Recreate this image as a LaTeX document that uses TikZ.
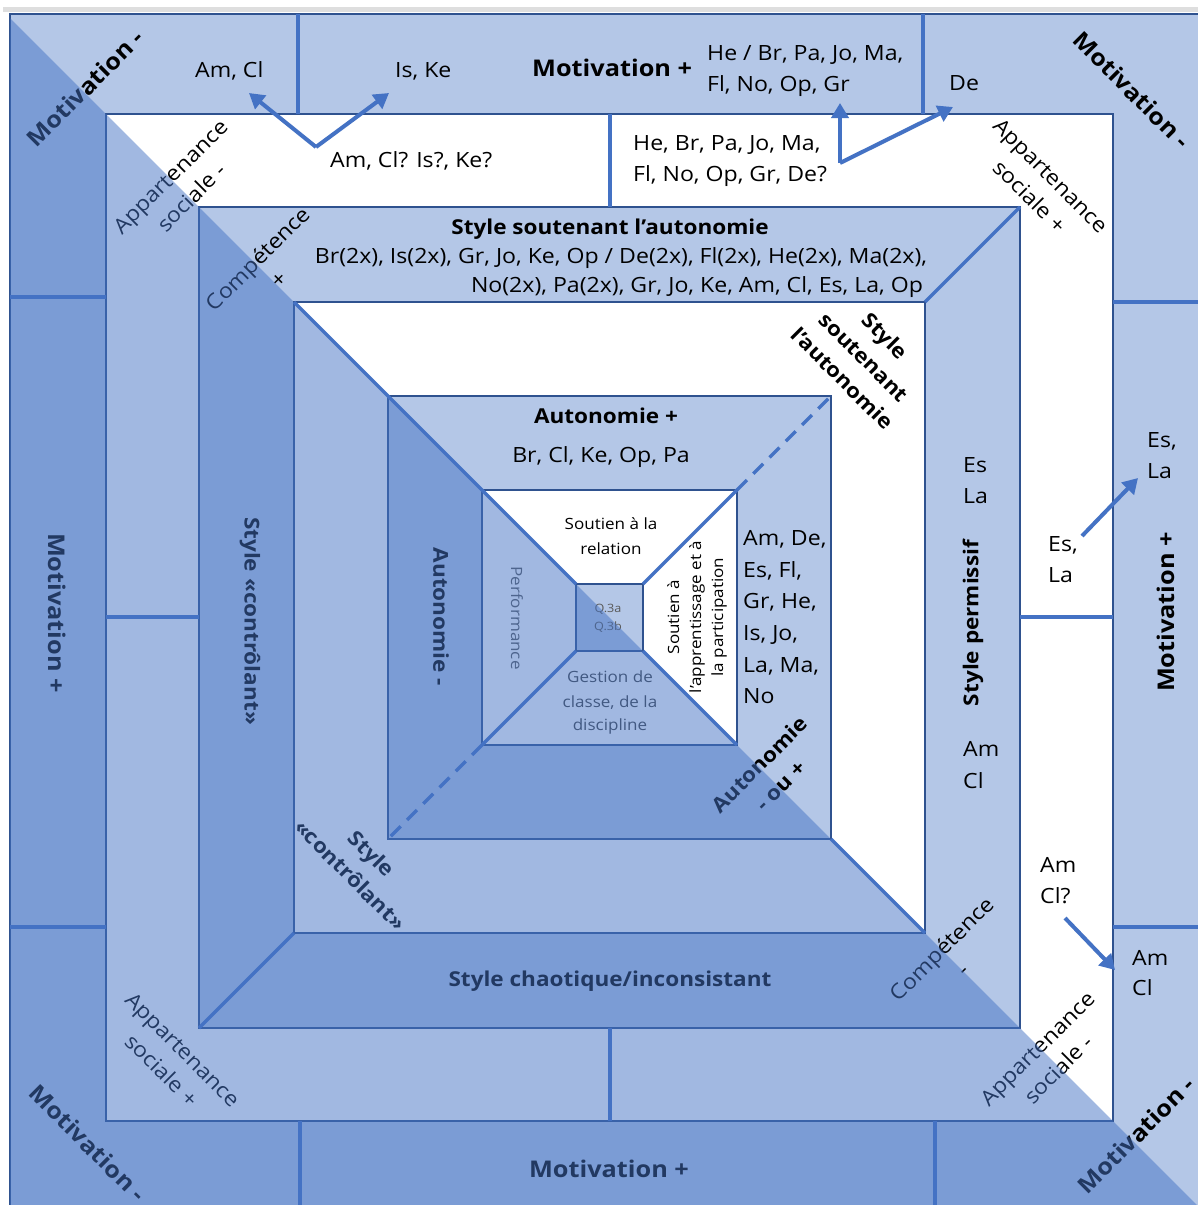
\documentclass[tikz,border=0pt]{standalone}
\usepackage{fontspec}
\setmainfont[FakeStretch=1.1]{Open Sans}
\usetikzlibrary{arrows.meta}
\definecolor{lightb}{HTML}{B4C7E7}
\definecolor{edgeb}{HTML}{2F528F}
\definecolor{lineb}{HTML}{4472C4}
\definecolor{graytxt}{HTML}{595959}
\definecolor{darkgray}{HTML}{404040}
\begin{document}
\begin{tikzpicture}[x=1pt,y=-1pt,
  sqA/.style={fill=lightb,draw=edgeb,line width=1.2pt},
  sqB/.style={fill=white,draw=edgeb,line width=1.2pt},
  divl/.style={lineb,line width=3.5pt},
  dashl/.style={lineb,line width=3.5pt,dash pattern=on 14pt off 9pt},
  arr/.style={lineb,line width=4pt,-{Triangle[length=15pt,width=17pt]}},
  reg/.style={inner sep=0pt,font=\fontsize{21}{30}\selectfont,align=center},
  boldl/.style={inner sep=0pt,font=\bfseries\fontsize{20.5}{30}\selectfont,align=center},
  motiv/.style={inner sep=0pt,font=\bfseries\fontsize{23}{28}\selectfont},
  smalltxt/.style={inner sep=0pt,font=\fontsize{15.5}{22}\selectfont,align=center},
]
\useasboundingbox (0,0) rectangle (1198,1205);
\fill[white] (0,0) rectangle (1198,1205);
\fill[black!13] (3,7) rectangle (1198,12);
\begin{scope}
\clip (0,0) rectangle (1198,1205);
% layers
\path[sqA] (10,14) rectangle (1215,1222);
\path[sqB] (106,114) rectangle (1113,1121);
\path[sqA] (199,207) rectangle (1020,1028);
\path[sqB] (294,302) rectangle (925,933);
\path[sqA] (388,396) rectangle (831,839);
\path[sqB] (482,490) rectangle (737,745);
\path[sqA] (576,584) rectangle (643,651);
% outer dividers
\draw[divl] (298,14) -- (298,114);
\draw[divl] (923,14) -- (923,114);
\draw[divl] (10,297) -- (106,297);
\draw[divl] (10,927) -- (106,927);
\draw[divl] (1113,302) -- (1198,302);
\draw[divl] (1113,927) -- (1198,927);
\draw[divl] (300,1121) -- (300,1205);
\draw[divl] (935,1121) -- (935,1205);
% S1 dividers
\draw[divl] (610,114) -- (610,207);
\draw[divl] (106,617) -- (199,617);
\draw[divl] (1020,617) -- (1113,617);
\draw[divl] (610,1028) -- (610,1121);
% S2 corners
\draw[divl] (925,302) -- (1020,207);
\draw[divl] (294,933) -- (199,1028);
% main diagonal pieces
\draw[divl] (294,302) -- (576,584);
\draw[divl] (643,651) -- (737,745);
\draw[divl] (831,839) -- (925,933);
% S5 corners
\draw[divl] (737,490) -- (643,584);
\draw[divl] (482,745) -- (576,651);
% S4 dashed corners
\draw[dashl] (737,490) -- (831,396);
\draw[dashl] (482,745) -- (388,839);

% ---------- texts ----------
% outer layer
\node[motiv,rotate=45] (mTL) at (85,88) {Motivation -};
\node[motiv,rotate=-45] (mTR) at (1132,90) {Motivation -};
\node[motiv,rotate=-45] (mBL) at (88,1143) {Motivation -};
\node[motiv,rotate=45] (mBR) at (1136,1135) {Motivation -};
\node[motiv,anchor=base west] (mT) at (532,76) {Motivation +};
\node[motiv,anchor=base] (mB) at (609,1177) {Motivation +};
\node[motiv,rotate=-90] (mL) at (57,613) {Motivation +};
\node[motiv,rotate=90] (mR) at (1166,612) {Motivation +};
\node[reg,anchor=base west] (t1) at (195,77) {Am, Cl};
\node[reg,anchor=base west] (t2) at (395,77) {Is, Ke};
\node[reg,anchor=base west] (t3a) at (707,60) {He / Br, Pa, Jo, Ma,};
\node[reg,anchor=base west] (t3b) at (707,91) {Fl, No, Op, Gr};
\node[reg,anchor=base west] (t4) at (949,90) {De};
\node[reg,anchor=base west] (t5a) at (1147,447) {Es,};
\node[reg,anchor=base west] (t5b) at (1147,478) {La};
\node[reg,anchor=base west] (t6a) at (1132,965) {Am};
\node[reg,anchor=base west] (t6b) at (1132,995) {Cl};
% S1 layer
\node[reg,rotate=45] (aTL) at (181,187) {Appartenance\\sociale -};
\node[reg,rotate=-45] (aTR) at (1040,186) {Appartenance\\sociale +};
\node[reg,rotate=-45] (aBL) at (172,1060) {Appartenance\\sociale +};
\node[reg,rotate=45] (aBR) at (1048,1059) {Appartenance\\sociale -};
\node[reg,anchor=base west] (t7) at (330,167) {Am, Cl? Is?, Ke?};
\node[reg,anchor=base west] (t8a) at (633,150) {He, Br, Pa, Jo, Ma,};
\node[reg,anchor=base west] (t8b) at (633,181) {Fl, No, Op, Gr, De?};
\node[reg,anchor=base west] (t9a) at (1048,551) {Es,};
\node[reg,anchor=base west] (t9b) at (1048,582) {La};
\node[reg,anchor=base west] (t10a) at (1040,872) {Am};
\node[reg,anchor=base west] (t10b) at (1040,903) {Cl?};
% S2 layer
\node[reg,rotate=45] (cTL) at (268,269) {Compétence\\+};
\node[reg,rotate=45] (cBR) at (952,959) {Compétence\\-};
\node[boldl,anchor=base] (sSA) at (610,234) {Style soutenant l’autonomie};
\node[reg,anchor=base] (t11a) at (621,263) {Br(2x), Is(2x), Gr, Jo, Ke, Op / De(2x), Fl(2x), He(2x), Ma(2x),};
\node[reg,anchor=base] (t11b) at (697,292) {No(2x), Pa(2x), Gr, Jo, Ke, Am, Cl, Es, La, Op};
\node[boldl,rotate=-90] (sC) at (250,621) {Style «contrôlant»};
\node[boldl,rotate=90] (sP) at (973,623) {Style permissif};
\node[boldl,anchor=base] (sCh) at (610,986) {Style chaotique/inconsistant};
\node[reg,anchor=base west] (t12a) at (963,472) {Es};
\node[reg,anchor=base west] (t12b) at (963,503) {La};
\node[reg,anchor=base west] (t13a) at (963,756) {Am};
\node[reg,anchor=base west] (t13b) at (963,788) {Cl};
% S3 layer
\node[boldl,rotate=-45] (sTR) at (864,357) {Style\\soutenant\\l’autonomie};
\node[boldl,rotate=-45] (sBL) at (361,864) {Style\\«contrôlant»};
% S4 layer
\node[boldl,anchor=base] (auP) at (606,423) {Autonomie +};
\node[reg,anchor=base] (t14) at (601,462) {Br, Cl, Ke, Op, Pa};
\node[boldl,rotate=-90] (auM) at (441,617) {Autonomie -};
\node[boldl,rotate=45] (auBR) at (770,775) {Autonomie\\- ou +};
\node[reg,anchor=base west] (t15a) at (743,545) {Am, De,};
\node[reg,anchor=base west] (t15b) at (743,577) {Es, Fl,};
\node[reg,anchor=base west] (t15c) at (743,608) {Gr, He,};
\node[reg,anchor=base west] (t15d) at (743,640) {Is, Jo,};
\node[reg,anchor=base west] (t15e) at (743,672) {La, Ma,};
\node[reg,anchor=base west] (t15f) at (743,703) {No};
% S5 layer
\node[smalltxt,anchor=base] (rel1) at (611,529) {Soutien à la};
\node[smalltxt,anchor=base] (rel2) at (611,554) {relation};
\node[smalltxt,rotate=90] (app) at (697,617) {Soutien à\\l’apprentissage et à\\la participation};
\node[smalltxt,rotate=-90,text=graytxt] (perf) at (517,618) {Performance};
\node[smalltxt,anchor=base,text=darkgray] (g1) at (610,682) {Gestion de};
\node[smalltxt,anchor=base,text=darkgray] (g2) at (610,707) {classe, de la};
\node[smalltxt,anchor=base,text=darkgray] (g3) at (610,730) {discipline};
\node[inner sep=0pt,font=\fontsize{11.5}{14}\selectfont,text=graytxt,anchor=base] (q1) at (608,612) {Q.3a};
\node[inner sep=0pt,font=\fontsize{11.5}{14}\selectfont,text=graytxt,anchor=base] (q2) at (608,630) {Q.3b};

% overlay of lower-left half
\begin{scope}
\clip (10,14) rectangle (1198,1205);
\fill[lineb,fill opacity=0.5] (0,8) -- (1400,1408) -- (0,1408) -- cycle;
\end{scope}

% arrows
\coordinate (v1) at (316,147);
\coordinate (e1) at (249,93);
\coordinate (e2) at (389,93);
\coordinate (v2) at (840,163);
\coordinate (e3) at (840,103);
\coordinate (e4) at (953,107);
\coordinate (s5) at (1082,536);
\coordinate (e5) at (1138,478);
\coordinate (s6) at (1065,918);
\coordinate (e6) at (1115,970);
\draw[arr] (v1) -- (e1);
\draw[arr] (v1) -- (e2);
\draw[arr] (v2) -- (e3);
\draw[arr] (v2) -- (e4);
\draw[arr] (s5) -- (e5);
\draw[arr] (s6) -- (e6);
\end{scope}
\end{tikzpicture}
\end{document}
